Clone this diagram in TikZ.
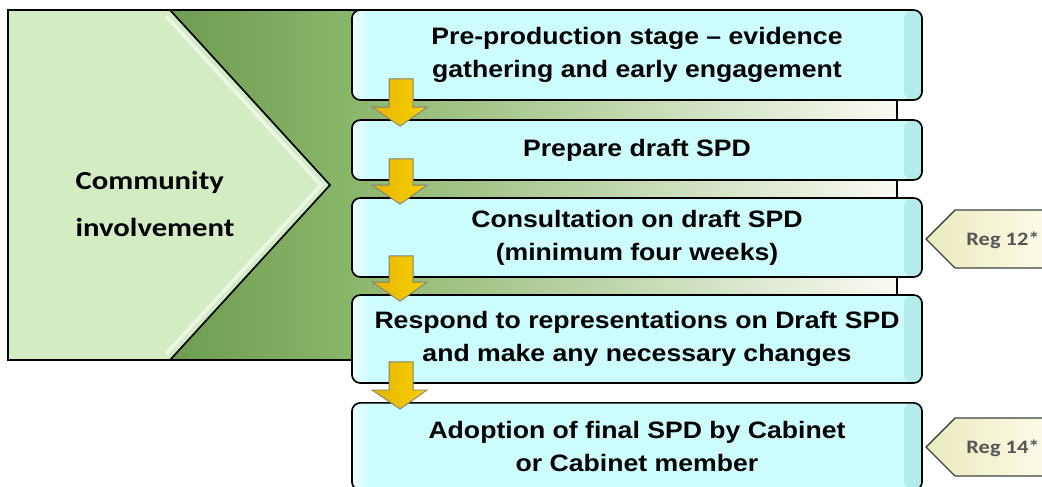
\documentclass[tikz,border=0pt]{standalone}
\usepackage{fontspec}
\setmainfont{Liberation Sans}[FakeStretch=1.12]
\newfontfamily\calfont{Carlito}[FakeStretch=1.18]
\usetikzlibrary{calc}
\definecolor{boxcyan}{HTML}{CCFCFC}
\definecolor{boxshade}{HTML}{B4ECEC}
\definecolor{leafgreen}{HTML}{D3ECC3}
\definecolor{darkgreen}{HTML}{6E9C50}
\definecolor{midgreen}{HTML}{8AB66A}
\definecolor{palegreen}{HTML}{C2DCAC}
\definecolor{fadegreen}{HTML}{FAFAF4}
\definecolor{creamleft}{HTML}{ECEABD}
\definecolor{creamright}{HTML}{FBFBE8}
\definecolor{regtext}{HTML}{565656}
\definecolor{gold}{HTML}{F6D000}
\definecolor{goldlight}{HTML}{FFFF7A}
\definecolor{golddark}{HTML}{E6B400}
\tikzset{
  stage/.style={draw=black, line width=1.2pt, rounded corners=6pt, fill=boxcyan,
    minimum width=14.25cm, inner sep=0pt, align=center,
    font=\bfseries\fontsize{16.9}{23.5}\selectfont,
    path picture={
      \shade[left color=boxcyan, right color=boxshade]
        ([xshift=-0.45cm]path picture bounding box.north east) rectangle (path picture bounding box.south east);
      \shade[left color=white!65!boxcyan, right color=boxcyan]
        (path picture bounding box.north west) rectangle ([xshift=0.45cm]path picture bounding box.south west);
    }},
  goldarrow/.style={left color=golddark, middle color=goldlight, right color=gold,
    draw=gray, line width=0.6pt},
  regtag/.style={left color=creamleft, right color=creamright, draw=black!75, line width=1pt},
  reglabel/.style={font=\calfont\bfseries\fontsize{13.5}{16}\selectfont, text=regtext}
}
% block arrow from one stage down to the next
\newcommand{\goldarrow}[2]{%
  \shadedraw[goldarrow] ($(#1.south west)+(38,-22)$) -- ($(#1.south west)+(62,-22)$)
    -- ($(#2.north west)+(62,-12)$) -- ($(#2.north west)+(76,-12)$)
    -- ($(#2.north west)+(49,7)$) -- ($(#2.north west)+(21,-12)$)
    -- ($(#2.north west)+(38,-12)$) -- cycle;}
\begin{document}
\begin{tikzpicture}[x=0.025cm,y=-0.025cm]
  \useasboundingbox (0,0) rectangle (1042,487);
  % green backdrop
  \fill[darkgreen] (8,10) rectangle (170,360);
  \shade[left color=darkgreen, right color=midgreen] (170,10) rectangle (352,360);
  \shade[left color=midgreen, middle color=palegreen, right color=fadegreen] (352,10) rectangle (897,360);
  \draw[line width=1.2pt] (8,10) rectangle (897,360);
  \draw[fill=leafgreen, line width=1.2pt] (8,10) -- (170,10) -- (330,185) -- (170,360) -- (8,360) -- cycle;
  \draw[white!60!leafgreen, line width=2.5pt] (166,16) -- (321,185) -- (166,354);
  \node[font=\calfont\bfseries\fontsize{18.5}{34}\selectfont, align=left] (community) at (155,204) {Community\\involvement};

  % stages
  \node[stage, minimum height=2.25cm] (evidence) at (637,55) {Pre-production stage -- evidence\\gathering and early engagement};
  \node[stage, minimum height=1.5cm] (draft) at (637,150) {Prepare draft SPD};
  \node[stage, minimum height=1.975cm] (consult) at (637,237.5) {Consultation on draft SPD\\(minimum four weeks)};
  \node[stage, minimum height=2.2cm] (respond) at (637,339) {Respond to representations on Draft SPD\\and make any necessary changes};
  \node[stage, minimum height=2.18cm] (adopt) at (637,446.5) {Adoption of final SPD by Cabinet\\or Cabinet member};

  \goldarrow{evidence}{draft}
  \goldarrow{draft}{consult}
  \goldarrow{consult}{respond}
  \goldarrow{respond}{adopt}

  % regulation tags
  \shadedraw[regtag] (926,239) -- (955,210) -- (1046,210) -- (1046,268) -- (955,268) -- cycle;
  \node[reglabel] (reg12) at (1003,240) {Reg 12*};
  \shadedraw[regtag] (926,447) -- (955,418) -- (1046,418) -- (1046,476) -- (955,476) -- cycle;
  \node[reglabel] (reg14) at (1003,448) {Reg 14*};
\end{tikzpicture}
\end{document}
